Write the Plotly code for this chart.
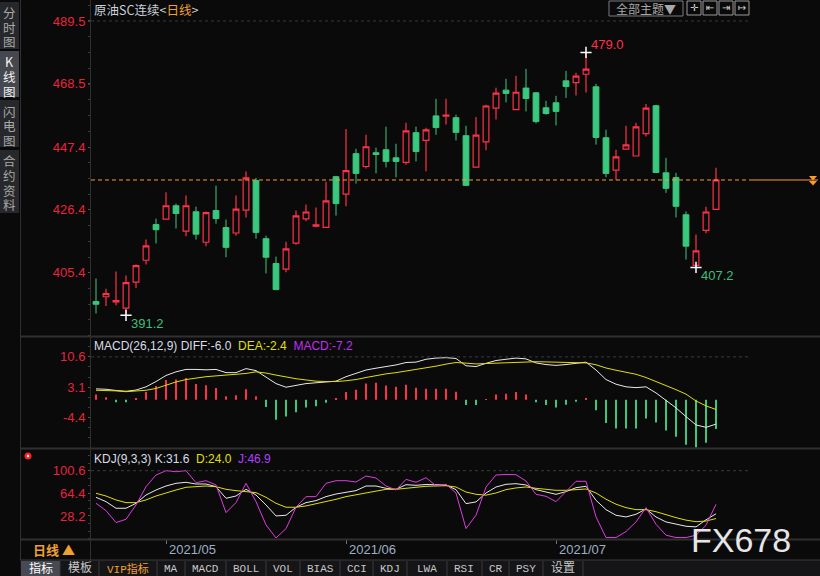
import plotly.graph_objects as go

W, H = 820, 576

# ---- data ----
dates = [
    "2021-04-22", "2021-04-23", "2021-04-26", "2021-04-27", "2021-04-28", "2021-04-29", "2021-04-30",
    "2021-05-06", "2021-05-07", "2021-05-10", "2021-05-11", "2021-05-12", "2021-05-13", "2021-05-14",
    "2021-05-17", "2021-05-18", "2021-05-19", "2021-05-20", "2021-05-21", "2021-05-24", "2021-05-25",
    "2021-05-26", "2021-05-27", "2021-05-28", "2021-05-31",
    "2021-06-01", "2021-06-02", "2021-06-03", "2021-06-04", "2021-06-07", "2021-06-08", "2021-06-09",
    "2021-06-10", "2021-06-11", "2021-06-15", "2021-06-16", "2021-06-17", "2021-06-18", "2021-06-21",
    "2021-06-22", "2021-06-23", "2021-06-24", "2021-06-25", "2021-06-28", "2021-06-29", "2021-06-30",
    "2021-07-01", "2021-07-02", "2021-07-05", "2021-07-06", "2021-07-07", "2021-07-08", "2021-07-09",
    "2021-07-12", "2021-07-13", "2021-07-14", "2021-07-15", "2021-07-16", "2021-07-19", "2021-07-20",
    "2021-07-21", "2021-07-22", "2021-07-23",
]
opens = [395.8, 397.4, 395.7, 393.6, 402.3, 409.6, 421.5, 423.3, 427.8, 419.3,
         425.8, 415.6, 426.2, 420.5, 418.7, 426.3, 436.2, 416.8, 408.5, 406.6,
         415.3, 423.4, 421.0, 420.6, 437.5, 431.7, 445.2, 440.9, 445.5, 446.5,
         443.8, 442.3, 452.2, 449.6, 457.8, 457.7, 457.2, 451.2, 440.7, 449.1,
         460.4, 466.4, 459.9, 467.1, 465.5, 460.5, 462.2, 469.5, 468.9, 471.7,
         467.5, 450.5, 439.7, 446.7, 444.4, 451.9, 461.2, 438.8, 437.2, 424.8,
         407.9, 419.6, 426.6]
highs = [403.5, 400.1, 405.8, 404.5, 408.2, 416.5, 423.5, 432.3, 428.5, 431.2,
         427.5, 425.9, 434.5, 423.2, 431.2, 439.2, 437.1, 417.8, 410.8, 415.8,
         426.2, 428.2, 427.2, 435.8, 437.8, 453.4, 446.8, 451.5, 447.2, 454.2,
         448.5, 455.5, 454.2, 453.8, 463.5, 463.5, 458.2, 454.5, 457.4, 461.5,
         467.2, 470.2, 471.2, 473.5, 465.8, 462.8, 464.5, 472.8, 472.2, 479.0,
         468.5, 453.2, 446.5, 454.5, 455.5, 461.8, 461.5, 443.8, 438.8, 425.9,
         418.2, 427.5, 440.5]
lows = [391.8, 394.3, 394.6, 391.2, 400.3, 408.2, 415.2, 423.1, 420.2, 417.6,
        416.5, 414.3, 421.8, 410.6, 417.8, 423.9, 416.8, 405.2, 399.6, 405.6,
        414.8, 422.6, 420.6, 420.4, 424.5, 427.6, 435.2, 440.2, 438.6, 440.6,
        437.3, 441.5, 442.6, 439.3, 451.5, 454.9, 449.6, 434.4, 440.5, 446.3,
        456.6, 462.3, 459.7, 459.3, 455.3, 458.2, 454.6, 463.8, 464.6, 465.6,
        448.2, 437.3, 436.4, 446.5, 444.2, 450.9, 438.7, 432.1, 423.9, 409.8,
        407.2, 418.6, 426.4]
closes = [394.9, 398.5, 396.1, 402.1, 407.8, 414.4, 419.8, 427.8, 425.2, 427.8,
          418.3, 425.5, 423.5, 413.9, 426.7, 437.1, 418.9, 410.6, 399.8, 413.4,
          424.4, 425.7, 421.4, 429.4, 428.5, 439.5, 438.6, 447.5, 444.9, 442.6,
          442.6, 452.8, 445.9, 453.1, 453.9, 458.1, 452.3, 434.6, 451.4, 461.1,
          465.4, 465.3, 465.7, 463.6, 455.9, 458.6, 459.3, 467.6, 471.1, 473.4,
          450.6, 438.6, 444.1, 448.1, 454.1, 460.4, 438.9, 433.6, 427.6, 414.3,
          412.7, 425.7, 436.4]

diff = [2.7, 2.6, 2.3, 2.1, 2.4, 3.2, 4.5, 6.0, 6.9, 7.5,
        7.5, 7.4, 7.5, 6.7, 6.7, 7.7, 7.2, 5.7, 4.0, 3.1,
        3.6, 4.0, 4.2, 4.35, 4.6, 5.7, 6.5, 7.35, 7.8, 8.2,
        8.6, 9.2, 9.3, 10.0, 10.3, 10.4, 10.2, 8.4, 8.2, 9.0,
        9.7, 10.0, 10.3, 10.1, 9.1, 8.7, 8.5, 8.7, 9.0, 9.3,
        7.35, 5.0, 3.85, 3.2, 3.0, 3.2, 1.7, -0.15, -2.0, -4.15,
        -6.2, -6.8, -6.0]
dea = [2.35, 2.3, 2.2, 2.0, 2.2, 2.35, 2.8, 3.6, 4.4, 5.0,
       5.4, 5.7, 5.9, 6.1, 6.3, 6.5, 6.9, 6.6, 6.1, 5.6,
       5.2, 4.9, 4.6, 4.5, 4.5, 4.7, 5.0, 5.5, 6.0, 6.4,
       6.7, 7.1, 7.5, 7.8, 8.3, 8.8, 9.2, 9.05, 8.85, 8.95,
       9.05, 9.25, 9.35, 9.45, 9.4, 9.35, 9.25, 9.2, 9.15, 9.1,
       8.65, 7.85, 7.3, 6.75, 6.3, 5.5, 4.5, 3.6, 2.5, 1.4,
       -0.3, -1.5, -2.4]
macd_bar = [1.3, 0.6, -0.6, -0.6, 0.3, 1.9, 3.4, 4.9, 5.0, 5.4,
            3.9, 3.6, 2.9, 0.9, 1.1, 2.6, 0.9, -1.8, -4.9, -4.1,
            -3.1, -1.9, -1.6, -0.7, 0.2, 1.9, 2.5, 4.0, 4.2, 3.5,
            3.2, 3.7, 3.0, 2.7, 2.7, 2.7, 2.0, -1.3, -1.3, 0.1,
            1.3, 1.5, 1.9, 1.3, -0.6, -1.3, -1.9, -1.2, -0.5, 0.2,
            -2.6, -5.7, -7.1, -7.1, -7.1, -4.6, -5.6, -7.6, -9.1, -11.1,
            -11.8, -10.6, -7.2]

k_line = [58.0, 51.1, 40.5, 40.5, 48.4, 61.7, 69.7, 76.1, 80.4, 82.0,
          79.3, 79.3, 75.0, 56.4, 60.1, 70.8, 61.7, 45.8, 28.2, 29.3,
          42.1, 49.5, 52.7, 59.1, 63.3, 66.5, 68.7, 76.1, 76.1, 72.4,
          70.8, 78.2, 77.2, 78.5, 77.7, 77.7, 70.3, 47.9, 50.6, 64.9,
          74.5, 78.8, 79.8, 77.7, 70.3, 66.5, 62.8, 67.1, 73.4, 75.6,
          53.2, 38.3, 29.3, 26.6, 30.9, 39.4, 26.6, 18.6, 14.9, 11.7,
          10.7, 22.0, 31.6]
d_line = [64.4, 60.1, 53.8, 49.5, 49.5, 53.8, 60.1, 65.5, 69.7, 74.0,
          75.0, 76.1, 75.0, 70.8, 68.7, 67.1, 65.5, 58.0, 48.4, 42.1,
          42.1, 44.2, 47.4, 51.1, 54.8, 59.1, 62.3, 65.5, 68.7, 70.8,
          70.8, 72.9, 74.0, 75.6, 76.6, 76.6, 74.5, 66.5, 62.8, 61.5,
          64.9, 70.3, 73.0, 74.5, 72.4, 70.5, 69.2, 69.2, 70.5, 71.3,
          64.9, 55.0, 47.0, 41.5, 38.3, 38.3, 35.0, 30.0, 25.5, 21.5,
          19.0, 20.0, 24.0]
j_line = [48.4, 36.7, 17.6, 22.9, 45.8, 75.0, 93.7, 100.6, 99.0, 100.6,
          81.4, 84.6, 77.7, 33.5, 49.5, 80.4, 51.1, 13.9, -7.0, 7.9,
          42.1, 59.1, 59.1, 80.4, 84.6, 84.6, 82.5, 92.1, 88.9, 76.1,
          69.7, 86.7, 82.0, 89.4, 76.6, 78.8, 64.9, 8.0, 29.3, 74.5,
          93.7, 94.7, 94.2, 84.1, 62.8, 59.6, 51.1, 68.1, 83.6, 83.6,
          26.6, -6.4, -6.4, 3.2, 18.6, 41.5, 14.9, -2.6, -6.4, -6.4,
          -2.6, 13.3, 46.9]

price_ticks = [405.4, 426.4, 447.4, 468.5, 489.5]
macd_ticks = [-4.4, 3.1, 10.6]
kdj_ticks = [28.2, 64.4, 100.6]
month_ticks = ["2021-05-06", "2021-06-01", "2021-07-01"]
month_labels = ["2021/05", "2021/06", "2021/07"]

side_tabs = ["分时图", "K线图", "闪电图", "合约资料"]
bottom_tabs = ["指标", "模板", "VIP指标", "MA", "MACD", "BOLL", "VOL", "BIAS",
               "CCI", "KDJ", "LWA", "RSI", "CR", "PSY", "设置"]

# ---- look ----
BG = "#0a0a0a"
RED = "#ff3048"
GREEN = "#3ac87e"
AXIS_RED = "#e8243c"
WHITE = "#e8e8e8"
YELLOW = "#e0e000"
MAGENTA = "#e03ce0"
PURPLE = "#b040ff"
ORANGE = "#ff9a30"
LINE = "#303030"
NUM_FONT = "Liberation Sans"
CJK_FONT = "Noto Sans CJK SC"


def px(x):
    return x / W


def py(y):
    return 1 - y / H


XDOM = [px(91), px(750)]

fig = go.Figure()

# main panel
fig.add_trace(go.Candlestick(
    x=dates, open=opens, high=highs, low=lows, close=closes,
    increasing=dict(line=dict(color=RED, width=1.2), fillcolor=BG),
    decreasing=dict(line=dict(color=GREEN, width=1), fillcolor=GREEN),
    whiskerwidth=0, xaxis="x", yaxis="y"))

i_hi = highs.index(max(highs))
i_lo = lows.index(min(lows))
i_rl = lows.index(min(lows[50:]))
ext_idx = [i_hi, i_lo, i_rl]
ext_val = [highs[i_hi], lows[i_lo], lows[i_rl]]
fig.add_trace(go.Scatter(
    x=[dates[i] for i in ext_idx], y=ext_val, mode="markers",
    marker=dict(symbol="cross-thin", size=8, line=dict(color="white", width=1.5)),
    xaxis="x", yaxis="y"))

# MACD panel
fig.add_trace(go.Bar(
    x=dates, y=macd_bar, width=0.15,
    marker=dict(color=[RED if v > 0 else GREEN for v in macd_bar], line=dict(width=0)),
    xaxis="x2", yaxis="y2"))
fig.add_trace(go.Scatter(x=dates, y=diff, mode="lines", line=dict(color=WHITE, width=1),
                         xaxis="x2", yaxis="y2"))
fig.add_trace(go.Scatter(x=dates, y=dea, mode="lines", line=dict(color=YELLOW, width=1),
                         xaxis="x2", yaxis="y2"))

# KDJ panel
fig.add_trace(go.Scatter(x=dates, y=k_line, mode="lines", line=dict(color=WHITE, width=1),
                         xaxis="x3", yaxis="y3"))
fig.add_trace(go.Scatter(x=dates, y=d_line, mode="lines", line=dict(color=YELLOW, width=1),
                         xaxis="x3", yaxis="y3"))
fig.add_trace(go.Scatter(x=dates, y=j_line, mode="lines", line=dict(color=MAGENTA, width=1),
                         xaxis="x3", yaxis="y3"))

xbase = dict(type="category", range=[-0.5, 65.4], showgrid=False, zeroline=False,
             showticklabels=False, showline=False, fixedrange=True, domain=XDOM)


def y_axis(rng, vals, minor_step, **kw):
    ax = dict(range=rng, tickmode="array", tickvals=vals,
              ticktext=[f"{v:.1f}" for v in vals], showgrid=False, zeroline=False,
              showline=False, ticks="outside", ticklen=2, tickcolor="#555555",
              tickfont=dict(family=NUM_FONT, size=13, color=AXIS_RED), fixedrange=True,
              minor=dict(ticks="outside", ticklen=2, tickcolor="#3c3c3c", tickmode="linear",
                         tick0=vals[0], dtick=minor_step, showgrid=False))
    ax.update(kw)
    return ax


P_RANGE = [384.3, 496.5]
M_RANGE = [-11.9, 15.5]
K_RANGE = [-8.7, 135.3]
P_MINOR = (price_ticks[1] - price_ticks[0]) / 4
M_MINOR = (macd_ticks[1] - macd_ticks[0]) / 3
K_MINOR = (kdj_ticks[1] - kdj_ticks[0]) / 3

fig.update_layout(
    width=W, height=H, margin=dict(l=0, r=0, t=0, b=0),
    paper_bgcolor=BG, plot_bgcolor=BG, showlegend=False, boxgap=0.18,
    xaxis=dict(anchor="y", rangeslider=dict(visible=False), **xbase),
    xaxis2=dict(anchor="y2", matches="x", **xbase),
    xaxis3=dict(anchor="y3", matches="x", ticks="outside", tickvals=month_ticks,
                ticklen=4, tickcolor="#6a7482", **xbase),
    yaxis=y_axis(P_RANGE, price_ticks, P_MINOR, domain=[py(336), py(0)], anchor="x"),
    yaxis2=y_axis(M_RANGE, macd_ticks, M_MINOR, domain=[py(448), py(337)], anchor="x2"),
    yaxis3=y_axis(K_RANGE, kdj_ticks, K_MINOR, domain=[py(539), py(449)], anchor="x3"),
    yaxis4=y_axis(P_RANGE, price_ticks, P_MINOR, overlaying="y", side="right", anchor="x"),
    yaxis5=y_axis(M_RANGE, macd_ticks, M_MINOR, overlaying="y2", side="right", anchor="x2"),
    yaxis6=y_axis(K_RANGE, kdj_ticks, K_MINOR, overlaying="y3", side="right", anchor="x3"),
)

shapes = []
# dashed top grid line in each panel
for yref, val in (("y", price_ticks[-1]), ("y2", macd_ticks[-1]), ("y3", kdj_ticks[-1])):
    shapes.append(dict(type="line", xref="x domain", x0=0, x1=1, yref=yref, y0=val, y1=val,
                       line=dict(color="#3a3a3a", width=1, dash="3px,3px")))
# last close line
shapes.append(dict(type="line", xref="x domain", x0=0, x1=1, yref="y", y0=closes[-1],
                   y1=closes[-1], line=dict(color=ORANGE, width=1, dash="4px,3px")))
shapes.append(dict(type="line", xref="paper", x0=px(750), x1=px(818), yref="y",
                   y0=closes[-1], y1=closes[-1], line=dict(color=ORANGE, width=1)))
# panel separators and frame lines
for yy in (336.5, 448.5, 539.5):
    shapes.append(dict(type="line", xref="paper", yref="paper", x0=px(20), x1=1,
                       y0=py(yy), y1=py(yy), line=dict(color=LINE, width=2)))
for xx in (20.5, 90.5):
    shapes.append(dict(type="line", xref="paper", yref="paper", x0=px(xx), x1=px(xx),
                       y0=py(560), y1=1, line=dict(color=LINE, width=1)))
# left sidebar
side_spans = [(2, 49), (51, 97), (100, 147), (150, 213)]
for i, (a, b) in enumerate(side_spans):
    shapes.append(dict(type="rect", xref="paper", yref="paper", x0=0, x1=px(19),
                       y0=py(b), y1=py(a), line=dict(width=0),
                       fillcolor="#46484f" if i == 1 else "#27282c"))
# bottom toolbar
shapes.append(dict(type="rect", xref="paper", yref="paper", x0=px(20), x1=1, y0=0, y1=py(560),
                   fillcolor="#151517", line=dict(width=0)))
tab_edges = [21, 60, 99, 157, 185, 226, 266, 300, 340, 373, 407, 447, 482, 509, 543, 583]
shapes.append(dict(type="rect", xref="paper", yref="paper", x0=px(tab_edges[0]),
                   x1=px(tab_edges[1]), y0=0, y1=py(561), fillcolor="#474a53", line=dict(width=0)))
for e in tab_edges[1:]:
    shapes.append(dict(type="line", xref="paper", yref="paper", x0=px(e), x1=px(e),
                       y0=0, y1=py(561), line=dict(color="#3a3a3e", width=1)))
shapes.append(dict(type="line", xref="paper", yref="paper", x0=px(20), x1=1,
                   y0=py(560), y1=py(560), line=dict(color="#3a3a3e", width=1)))
# top right tool boxes
shapes.append(dict(type="rect", xref="paper", yref="paper", x0=px(609), x1=px(683),
                   y0=py(16), y1=py(1), line=dict(color="#7a7a7a", width=1)))
icon_boxes = [687, 703, 719, 735]
for bx in icon_boxes:
    shapes.append(dict(type="rect", xref="paper", yref="paper", x0=px(bx), x1=px(bx + 14),
                       y0=py(15), y1=py(1), line=dict(color="#9a9a9a", width=1)))
# red light icon
shapes.append(dict(type="circle", xref="paper", yref="paper", x0=px(24.5), x1=px(31.5),
                   y0=py(459.5), y1=py(452.5), fillcolor="#ff2020", line=dict(width=0)))
shapes.append(dict(type="circle", xref="paper", yref="paper", x0=px(26.8), x1=px(29.2),
                   y0=py(457.2), y1=py(454.8), fillcolor="#ffffff", line=dict(width=0)))
# double down-arrow marker at the right end of the close line
for ty in (176, 181):
    shapes.append(dict(type="path", xref="paper", yref="paper",
                       path=f"M {px(809)} {py(ty)} L {px(817)} {py(ty)} L {px(813)} {py(ty + 4.5)} Z",
                       fillcolor=ORANGE, line=dict(width=0)))

ann = []


def note(x, y, text, size=12, color=WHITE, family=NUM_FONT, xanchor="left", **kw):
    ann.append(dict(x=x, y=y, xref=kw.pop("xref", "paper"), yref=kw.pop("yref", "paper"),
                    text=text, showarrow=False, xanchor=xanchor, yanchor=kw.pop("yanchor", "middle"),
                    font=dict(size=size, color=color, family=family), **kw))


# titles
note(px(92), py(9), "原油SC连续<span style='color:#c8d0da'>&lt;</span>"
     "<span style='color:#f0a030'>日线</span><span style='color:#c8d0da'>&gt;</span>",
     size=12.5, color="#c8d0da", family=CJK_FONT)
note(px(92), py(346), f"MACD(26,12,9) DIFF:{diff[-1]:.1f}  "
     f"<span style='color:{YELLOW}'>DEA:{dea[-1]:.1f}</span>  "
     f"<span style='color:#c030f0'>MACD:{macd_bar[-1]:.1f}</span>",
     size=12, color="#d8dde6")
note(px(92), py(459), f"KDJ(9,3,3) K:{k_line[-1]:.1f}  "
     f"<span style='color:{YELLOW}'>D:{d_line[-1]:.1f}</span>  "
     f"<span style='color:{PURPLE}'>J:{j_line[-1]:.1f}</span>",
     size=12, color="#d8dde6")

# extreme price labels
note(dates[i_hi], highs[i_hi], f"{highs[i_hi]:.1f}", size=13, color=RED,
     xref="x", yref="y", xshift=3, yshift=8)
note(dates[i_lo], lows[i_lo], f"{lows[i_lo]:.1f}", size=13, color="#3cbf7e",
     xref="x", yref="y", xshift=3, yshift=-8)
note(dates[i_rl], lows[i_rl], f"{lows[i_rl]:.1f}", size=13, color="#3cbf7e",
     xref="x", yref="y", xshift=3, yshift=-8)

# month labels
for d, lab in zip(month_ticks, month_labels):
    note(d, py(549), lab, size=13, color="#9fb0c4", xref="x3", xshift=1)

# sidebar labels, one character per line
for i, (lab, (a, b)) in enumerate(zip(side_tabs, side_spans)):
    for k, ch in enumerate(lab):
        note(px(9.5), py(a + 11 + 14.5 * k), ch, size=12.5,
             color="#f2f2f2" if i == 1 else "#a8a8a8", family=CJK_FONT, xanchor="center")

# bottom tabs
for i, lab in enumerate(bottom_tabs):
    cx = (tab_edges[i] + tab_edges[i + 1]) / 2
    col = "#f0a030" if lab.startswith("VIP") else ("#ffffff" if i == 0 else "#c8c8c8")
    note(px(cx), py(568.5), lab, size=12 if i in (0, 1, 14) else 11, color=col,
         family="Liberation Mono, " + CJK_FONT, xanchor="center")

note(px(54), py(549.5), "<b>日线 ▲</b>", size=13, color="#f0a030", family=CJK_FONT,
     xanchor="center")
note(px(646), py(8.5), "全部主题▼", size=12, color="#a8a8a8", family=CJK_FONT, xanchor="center")
for bx, glyph in zip(icon_boxes, ["✛", "⇤", "⇥", "↦"]):
    note(px(bx + 7), py(8), glyph, size=10, color="#d0d0d0", family="DejaVu Sans",
         xanchor="center")

# watermark
note(px(741), py(540), "FX678", size=34, color="#e6e6e6", xanchor="center")

fig.update_layout(shapes=shapes, annotations=ann)
fig.write_html("out.html", config={"displayModeBar": False},
               post_script="document.body.style.margin='0';"
                           "document.body.style.overflow='hidden';")
